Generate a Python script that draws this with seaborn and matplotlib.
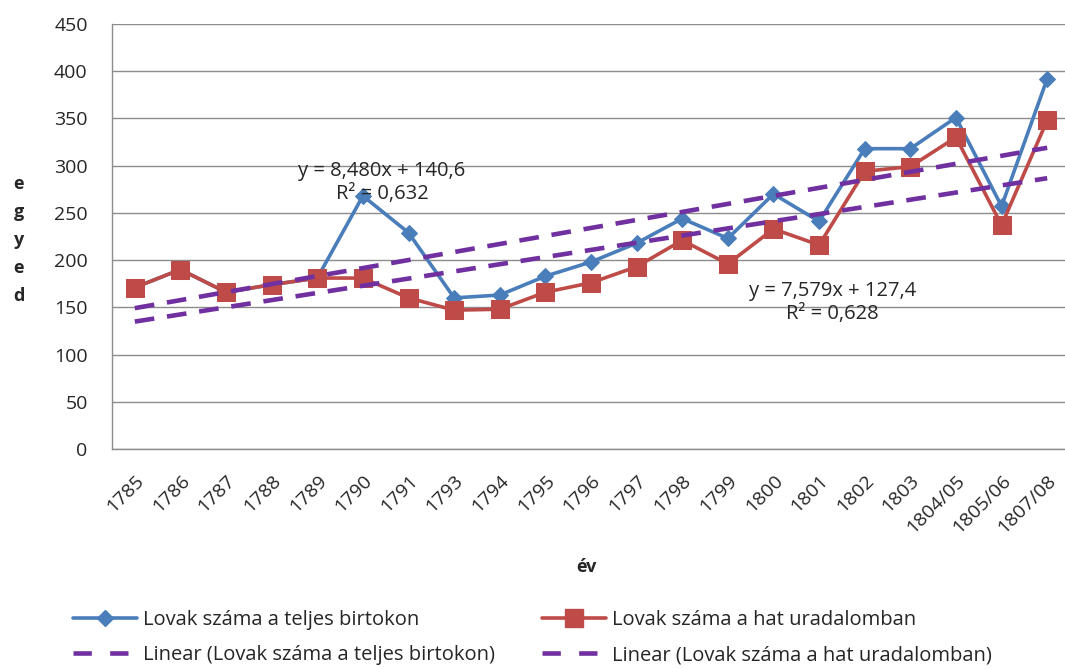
import numpy as np
import pandas as pd
import matplotlib
matplotlib.use("Agg")
import matplotlib.pyplot as plt
import matplotlib.transforms as mtransforms
from matplotlib.lines import Line2D
import seaborn as sns

# ---- data ----
years = ["1785", "1786", "1787", "1788", "1789", "1790", "1791", "1793", "1794",
         "1795", "1796", "1797", "1798", "1799", "1800", "1801", "1802", "1803",
         "1804/05", "1805/06", "1807/08"]
teljes = [171, 190, 166, 174, 181, 268, 229, 160, 163, 183, 198, 218, 244, 223,
          270, 241, 318, 318, 351, 257, 392]
hat = [171, 190, 166, 174, 181, 181, 160, 147, 148, 166, 176, 193, 221, 196,
       233, 216, 294, 299, 330, 237, 348]
name_teljes = "Lovak száma a teljes birtokon"
name_hat = "Lovak száma a hat uradalomban"
eq_teljes = "y = 8,480x + 140,6\nR² = 0,632"
eq_hat = "y = 7,579x + 127,4\nR² = 0,628"
y_ticks = [0, 50, 100, 150, 200, 250, 300, 350, 400, 450]

BLUE = "#4A7EBB"
RED = "#BE4B48"
PURPLE = "#7030A0"
GRID = "#8C8C8C"
TXT = "#262626"

sns.set_style("white")
plt.rcParams["font.family"] = ["Open Sans", "DejaVu Sans"]

df = pd.DataFrame({"x": np.arange(len(years)), "teljes": teljes, "hat": hat})

W, H = 1065, 669
fig = plt.figure(figsize=(W / 100, H / 100), dpi=100)
left, right, top, bottom = 112, 1070, 24, 449
ax = fig.add_axes([left / W, 1 - bottom / H, (right - left) / W, (bottom - top) / H])

sns.lineplot(data=df, x="x", y="teljes", ax=ax, color=BLUE, linewidth=2.6,
             marker="D", markersize=8, markeredgecolor=BLUE, zorder=3)
sns.lineplot(data=df, x="x", y="hat", ax=ax, color=RED, linewidth=2.6,
             marker="s", markersize=13, markeredgecolor=RED, zorder=4)
dash = (0, (4.3, 2.8))
for col in ["teljes", "hat"]:
    sns.regplot(data=df, x="x", y=col, ax=ax, scatter=False, ci=None, truncate=True,
                line_kws=dict(color=PURPLE, linewidth=3.3, linestyle=dash, zorder=5))

ax.set_xlim(-0.5, len(years) - 0.5)
ax.set_ylim(0, 450)
ax.set_yticks(y_ticks)
ax.set_yticklabels([str(v) for v in y_ticks], fontsize=14, color=TXT)
ax.set_xticks(np.arange(len(years)))
ax.set_xticklabels(years, rotation=45, ha="right", rotation_mode="anchor",
                   fontsize=14, color=TXT)
offset = mtransforms.ScaledTranslation(-10 / 100, 0, fig.dpi_scale_trans)
for lab in ax.get_xticklabels():
    lab.set_transform(lab.get_transform() + offset)
ax.set_xticks(np.arange(len(years) + 1) - 0.5, minor=True)
ax.tick_params(axis="x", which="major", length=0, pad=16.5)
ax.tick_params(axis="x", which="minor", length=4.5, width=1, color=GRID, direction="out")
ax.tick_params(axis="y", length=6.5, width=1, color=GRID, direction="out", pad=11)
ax.grid(axis="y", color=GRID, linewidth=1)
ax.set_axisbelow(True)
for s in ["top", "right"]:
    ax.spines[s].set_visible(False)
for s in ["left", "bottom"]:
    ax.spines[s].set_color(GRID)
    ax.spines[s].set_linewidth(1)
ax.set_xlabel("")
ax.set_ylabel("")

ax.text(5.42, 282, eq_teljes, ha="center", va="center", fontsize=14.5,
        color=TXT, linespacing=1.2, zorder=6)
ax.text(15.3, 155, eq_hat, ha="center", va="center", fontsize=14.5,
        color=TXT, linespacing=1.2, zorder=6)

fig.text(19 / W, 1 - 240 / H, "e\ng\ny\ne\nd", ha="center", va="center",
         fontsize=13, fontweight="bold", linespacing=1.72, color=TXT)
fig.text(586 / W, 1 - 567 / H, "év", ha="center", va="center",
         fontsize=13, fontweight="bold", color=TXT)

handles = [
    Line2D([], [], color=BLUE, linewidth=2.6, marker="D", markersize=8),
    Line2D([], [], color=PURPLE, linewidth=3.3, linestyle=(0, (4.0, 4.0))),
    Line2D([], [], color=RED, linewidth=2.6, marker="s", markersize=13),
    Line2D([], [], color=PURPLE, linewidth=3.3, linestyle=(0, (4.0, 4.0))),
]
labels = [name_teljes, f"Linear ({name_teljes})", name_hat, f"Linear ({name_hat})"]
fig.legend(handles, labels, loc="upper left", bbox_to_anchor=(73 / W, 1 - 610 / H),
           ncol=2, frameon=False, fontsize=14.5, handlelength=3.2, handletextpad=0.3,
           columnspacing=2.3, labelspacing=0.75, borderpad=0, borderaxespad=0,
           labelcolor=TXT)

fig.savefig("out.png", dpi=100)
